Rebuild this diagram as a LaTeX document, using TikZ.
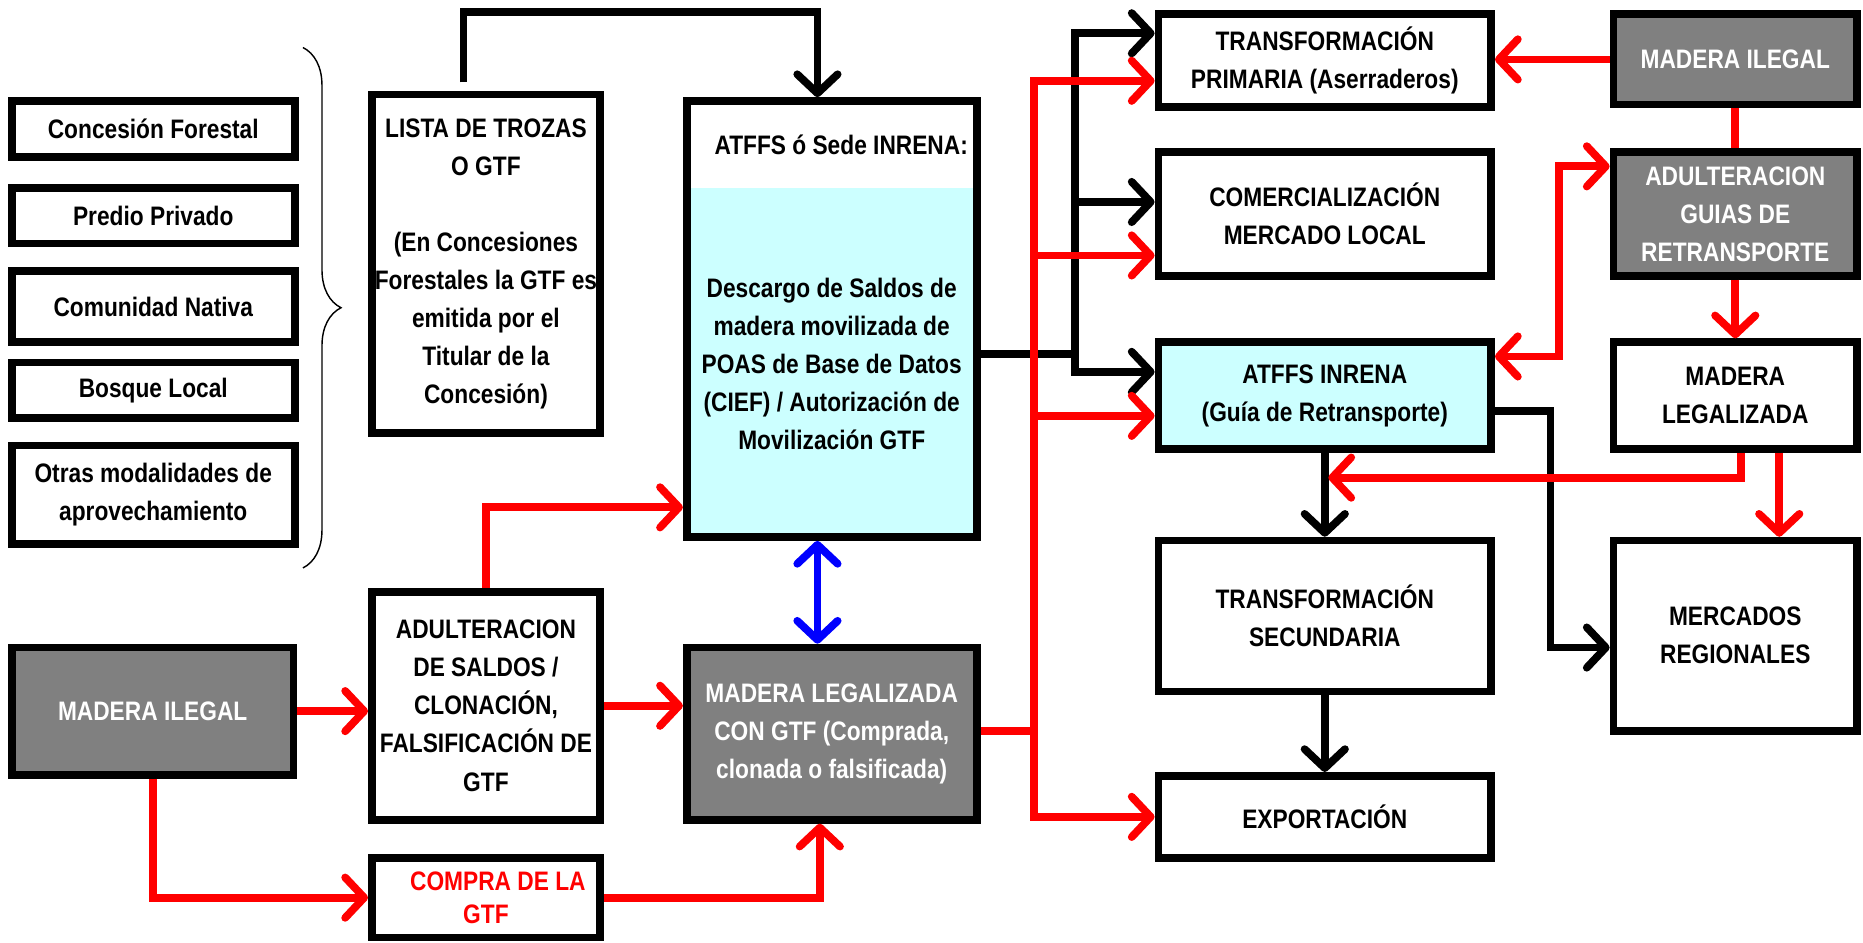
\documentclass[tikz,border=0pt]{standalone}
\usepackage{fontspec}
\setmainfont{Liberation Sans}[FakeStretch=0.85]
\usetikzlibrary{arrows.meta,calc,decorations.pathreplacing}
\definecolor{grayc}{HTML}{808080}
\definecolor{cyanc}{HTML}{CCFFFF}
\definecolor{redc}{HTML}{FF0000}
\definecolor{bluec}{HTML}{0000FF}
\begin{document}
\begin{tikzpicture}[x=1pt,y=-1pt,
  every node/.style={font=\bfseries\fontsize{22.5}{32}\selectfont, align=center, inner sep=0pt},
  box/.style={draw, line width=6.5pt, rectangle, fill=white},
  gbox/.style={box, fill=grayc, text=white},
  cbox/.style={box, fill=cyanc},
  conn/.style={line width=6.5pt},
  blk/.style={conn, draw=black},
  rdl/.style={conn, draw=redc},
  blueline/.style={conn, draw=bluec},
  arrowto/.style={-{Straight Barb[length=16pt,width=34pt,round]}},
  arrowboth/.style={{Straight Barb[length=16pt,width=34pt,round]}-{Straight Barb[length=16pt,width=34pt,round]}},
]
\useasboundingbox (0,0) rectangle (1568,793);

% left column
\node[box, minimum width=238pt, minimum height=47pt] (cf) at (129,108.5) {Concesión Forestal};
\node[box, minimum width=238pt, minimum height=47pt] (pp) at (129,181.5) {Predio Privado};
\node[box, minimum width=238pt, minimum height=60pt] (cn) at (129,258) {Comunidad Nativa};
\node[box, minimum width=238pt, minimum height=47pt] (bq) at (129,328.5) {Bosque Local};
\node[box, minimum width=238pt, minimum height=83pt] (om) at (129,416.5) {Otras modalidades de\\aprovechamiento};
\draw[line width=1.2pt, decorate, decoration={brace, amplitude=32pt}] (255,40) -- (255,478);

% second column
\node[box, minimum width=192pt, minimum height=285pt] (lista) at (409,222) {LISTA DE TROZAS\\O GTF\\[32pt](En Concesiones\\Forestales la GTF es\\emitida por el\\Titular de la\\Concesión)};
\node[box, minimum width=192pt, minimum height=192pt] (ads) at (409,594) {ADULTERACION\\DE SALDOS /\\CLONACIÓN,\\FALSIFICACIÓN DE\\GTF};
\node[box, minimum width=192pt, minimum height=67pt, text=redc, font=\bfseries\fontsize{22.5}{28}\selectfont] (compra) at (409,755.5) {\hspace*{20pt}COMPRA DE LA\\GTF};
\node[gbox, minimum width=237pt, minimum height=107pt] (mi) at (128.5,598.5) {MADERA ILEGAL};

% ATFFS column
\node[cbox, minimum width=244pt, minimum height=367pt,
  path picture={\fill[white] (path picture bounding box.north west) rectangle ([yshift=-73pt]path picture bounding box.north east);}] (atffs) at (700,268.5) {};
\node (atffst) at (708,122) {ATFFS ó Sede INRENA:};
\node (atffsb) at (700,306.5) {Descargo de Saldos de\\madera movilizada de\\POAS de Base de Datos\\(CIEF) / Autorización de\\Movilización GTF};
\node[gbox, minimum width=244pt, minimum height=145pt] (mlg) at (700,617.5) {MADERA LEGALIZADA\\CON GTF (Comprada,\\clonada o falsificada)};

% right middle column
\node[box, minimum width=280pt, minimum height=78pt] (tp) at (1115,51) {TRANSFORMACIÓN\\PRIMARIA (Aserraderos)};
\node[box, minimum width=280pt, minimum height=104pt] (cm) at (1115,180) {COMERCIALIZACIÓN\\MERCADO LOCAL};
\node[cbox, minimum width=280pt, minimum height=90pt] (ai) at (1115,333) {ATFFS INRENA\\(Guía de Retransporte)};
\node[box, minimum width=280pt, minimum height=127pt] (ts) at (1115,518.5) {TRANSFORMACIÓN\\SECUNDARIA};
\node[box, minimum width=280pt, minimum height=69pt] (ex) at (1115,687.5) {EXPORTACIÓN};

% right column
\node[gbox, minimum width=205pt, minimum height=76pt] (mi2) at (1460.5,50) {MADERA ILEGAL};
\node[gbox, minimum width=205pt, minimum height=104pt] (agr) at (1460.5,180) {ADULTERACION\\GUIAS DE\\RETRANSPORTE};
\node[box, minimum width=205pt, minimum height=90pt] (ml) at (1460.5,333) {MADERA\\LEGALIZADA};
\node[box, minimum width=205pt, minimum height=160pt] (mr) at (1460.5,535) {MERCADOS\\REGIONALES};

% black connectors
\coordinate (t0) at (390,10);
\coordinate (t1) at (688,10);
\draw[blk, arrowto] ($(t0 |- lista.north)+(0,-7)$) -- (t0) -- (t1) -- (t1 |- atffs.north);
\coordinate (bv) at (905,298);
\draw[blk] (atffs.east |- bv) -- (bv);
\draw[blk, arrowto] (bv) |- ($(tp.west)+(0,-23)$);
\draw[blk, arrowto] (bv) |- ($(cm.west)+(0,-10)$);
\draw[blk, arrowto] (bv) |- ($(ai.west)+(0,-20)$);
\draw[blk, arrowto] (ai.south) -- (ts.north);
\draw[blk, arrowto] (ts.south) -- (ex.north);
\coordinate (bk) at (1305,545);
\draw[blk, arrowto] ($(ai.east)+(0,13)$) -| (bk) -- (mr.west |- bk);

% red connectors
\draw[rdl, arrowto] (mi.east) -- (mi.east -| ads.west);
\draw[rdl, arrowto] (ads.east) -- (ads.east -| mlg.west);
\draw[rdl, arrowto] (ads.north) |- ($(atffs.west)+(0,158.5)$);
\draw[rdl, arrowto] (mi.south) |- (compra.west);
\draw[rdl, arrowto] (compra.east) -| ($(mlg.south)+(-10,0)$);
\coordinate (rv) at (870,615);
\draw[rdl] (mlg.east |- rv) -- (rv);
\draw[rdl, arrowto] (rv) |- ($(tp.west)+(0,17)$);
\draw[rdl, arrowto] (rv) |- ($(cm.west)+(0,35)$);
\draw[rdl, arrowto] (rv) |- ($(ai.west)+(0,17)$);
\draw[rdl, arrowto] (rv) |- (ex.west);
\draw[rdl, arrowto] (mi2.west) -- (mi2.west -| tp.east);
\draw[rdl] (mi2.south) -- (agr.north);
\coordinate (rd) at (1312,140);
\draw[rdl, arrowboth] ($(ai.east)+(0,-33)$) -| (rd) -- (agr.west |- rd);
\draw[rdl, arrowto] (agr.south) -- (ml.north);
\coordinate (rl) at (1118,402);
\draw[rdl, arrowto] ($(ml.south)+(5,0)$) |- (rl);
\draw[rdl, arrowto] ($(ml.south)+(37,0)$) -- ($(mr.north)+(37,0)$);

% blue connector
\draw[blueline, arrowboth] ($(atffs.south)+(-12,0)$) -- ($(mlg.north)+(-12,0)$);
\end{tikzpicture}
\end{document}
